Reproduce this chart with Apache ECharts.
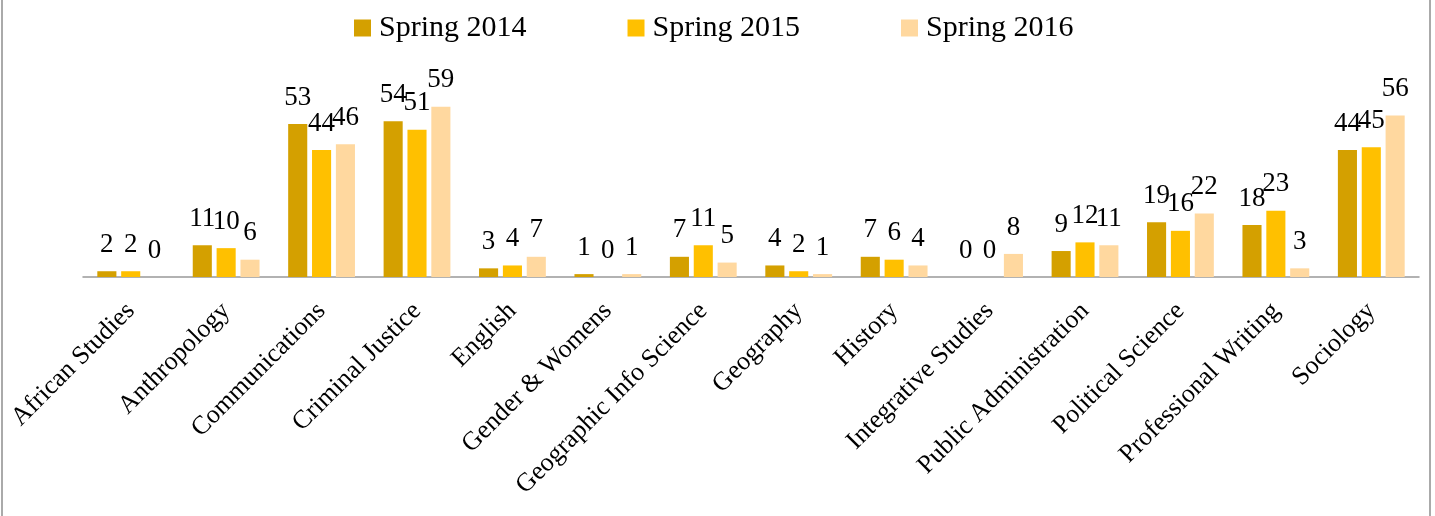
<!DOCTYPE html>
<html>
<head>
<meta charset="utf-8">
<script src="https://cdn.jsdelivr.net/npm/echarts@6/dist/echarts.min.js"></script>
<style>
    html, body { margin: 0; padding: 0; background: #fff; }
    #chart { width: 1435px; height: 516px; }
</style>
</head>
<body>
<div id="chart"></div>
<script>
// departments on the x axis
const categories = ['African Studies', 'Anthropology', 'Communications', 'Criminal Justice', 'English',
    'Gender & Womens', 'Geographic Info Science', 'Geography', 'History', 'Integrative Studies',
    'Public Administration', 'Political Science', 'Professional Writing', 'Sociology'];

// counts per term
const spring2014 = [2, 11, 53, 54, 3, 1, 7, 4, 7, 0, 9, 19, 18, 44];
const spring2015 = [2, 10, 44, 51, 4, 0, 11, 2, 6, 0, 12, 16, 23, 45];
const spring2016 = [0, 6, 46, 59, 7, 1, 5, 1, 4, 8, 11, 22, 3, 56];

const seriesNames = ['Spring 2014', 'Spring 2015', 'Spring 2016'];
const colors = ['#d4a000', '#ffc000', '#ffd89f'];
const font = '"Liberation Serif", "DejaVu Serif", serif';

const myChart = echarts.init(document.getElementById('chart'), null, { renderer: 'canvas' });

function makeSeries(name, data, color) {
    return {
        name: name,
        type: 'bar',
        data: data,
        barGap: '25%',
        barCategoryGap: '30%',
        itemStyle: { color: color },
        label: {
            show: true,
            position: 'top',
            distance: 13,
            color: '#000',
            fontFamily: font,
            fontSize: 27
        }
    };
}

const option = {
    animation: false,
    color: colors,
    legend: {
        left: 354,
        top: 13,
        padding: 0,
        itemWidth: 17,
        itemHeight: 17,
        itemGap: 101,
        icon: 'rect',
        textStyle: { fontFamily: font, fontSize: 30, color: '#000', padding: [0, 0, 0, 3] },
        data: seriesNames
    },
    grid: {
        left: 83,
        right: 16,
        top: 75,
        bottom: 239,
        containLabel: false
    },
    xAxis: {
        type: 'category',
        data: categories,
        axisLine: { lineStyle: { color: '#999', width: 1.5 } },
        axisTick: { show: false },
        axisLabel: {
            interval: 0,
            rotate: 45,
            margin: 30,
            color: '#000',
            fontFamily: font,
            fontSize: 26
        }
    },
    yAxis: {
        type: 'value',
        min: 0,
        max: 70,
        interval: 10,
        show: false
    },
    graphic: [
        // outer frame, left and right edges only
        { type: 'line', shape: { x1: 2, y1: 0, x2: 2, y2: 516 }, style: { stroke: '#aaa', lineWidth: 2 } },
        { type: 'line', shape: { x1: 1430, y1: 0, x2: 1430, y2: 516 }, style: { stroke: '#aaa', lineWidth: 2 } }
    ],
    series: [
        makeSeries(seriesNames[0], spring2014, colors[0]),
        makeSeries(seriesNames[1], spring2015, colors[1]),
        makeSeries(seriesNames[2], spring2016, colors[2])
    ]
};

option && myChart.setOption(option);
</script>
</body>
</html>
